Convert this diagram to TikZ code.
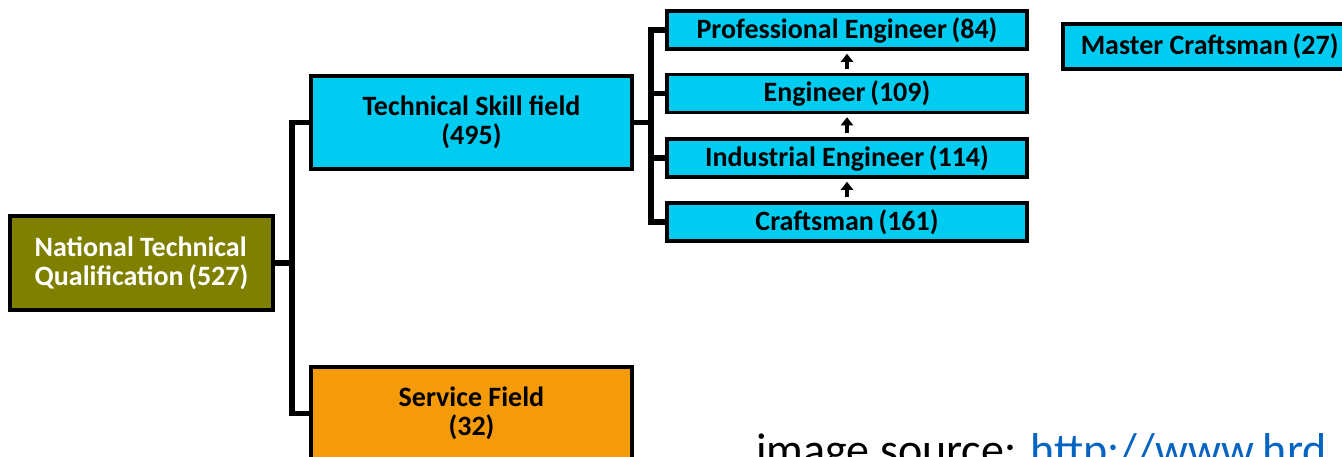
\documentclass[tikz,border=0pt]{standalone}
\usepackage{fontspec}
\setmainfont{Carlito}
\definecolor{qualolive}{RGB}{128,128,0}
\definecolor{skillcyan}{RGB}{0,204,242}
\definecolor{serviceorange}{RGB}{245,155,10}
\definecolor{linkblue}{RGB}{5,99,193}
\tikzset{
  box/.style={draw=black, line width=3.5pt, inner sep=0pt, font=\bfseries\fontsize{28}{29}\selectfont},
  levelbox/.style={box, fill=skillcyan, minimum width=360pt, minimum height=38pt},
  joint/.style={line width=5.5pt},
  uparrow/.style={line width=4pt, -{Triangle[length=8pt,width=12pt]}, shorten <=4pt, shorten >=3pt}
}
\usetikzlibrary{arrows.meta}
\begin{document}
\begin{tikzpicture}[x=1pt, y=-1pt]
  \useasboundingbox (0,0) rectangle (1342,456);
  \clip (0,0) rectangle (1342,456);
  \node [box, fill=qualolive, text=white, minimum width=263pt, minimum height=94pt, align=left] (ntq) at (141.5,263) {National Technical\\Qualification\,(527)};
  \node [box, fill=skillcyan, minimum width=321pt, minimum height=93pt, align=center] (tsf) at (471.5,122.5) {Technical Skill field\\(495)};
  \node [box, fill=serviceorange, minimum width=321pt, minimum height=93pt, align=center] (svc) at (471.5,413.5) {Service Field\\(32)};
  \node [levelbox] (pe) at (847,30) {Professional Engineer\,(84)};
  \node [levelbox] (eng) at (847,93.5) {Engineer\,(109)};
  \node [levelbox] (ie) at (847,158) {Industrial Engineer\,(114)};
  \node [levelbox] (cr) at (847,222) {Craftsman\,(161)};
  \node [box, fill=skillcyan, anchor=west, inner xsep=18pt, minimum height=45pt] (mc) at (1061,46.5) {Master Craftsman\,(27)};
  % tree lines
  \coordinate (trunk) at (292,263);
  \coordinate (branch) at (651,122.5);
  \draw [joint] (ntq.east) -- (trunk);
  \draw [joint] (tsf.west) -| (trunk) |- (svc.west);
  \draw [joint] (tsf.east) -- (branch);
  \foreach \b in {pe,eng,ie,cr}
  {
    \draw [joint] (branch) |- (\b.west);
  }
  % steps up
  \draw [uparrow] (cr.north) -- (ie.south);
  \draw [uparrow] (ie.north) -- (eng.south);
  \draw [uparrow] (eng.north) -- (pe.south);
  \node [anchor=base west, inner sep=0pt, font=\fontsize{46}{50}\selectfont] (src) at (756,465) {image source: \textcolor{linkblue}{http://www.hrd}};
\end{tikzpicture}
\end{document}
